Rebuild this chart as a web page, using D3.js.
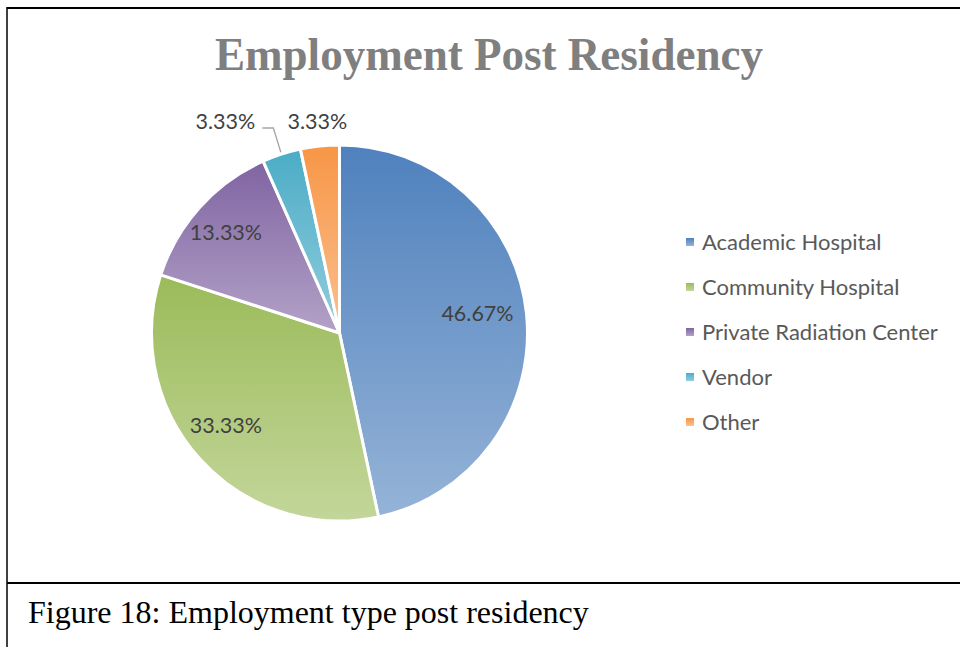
<!doctype html>
<html lang="en">
<head>
<meta charset="utf-8">
<title>Employment Post Residency</title>
<script src="https://d3js.org/d3.v7.min.js"></script>
<style>
  body { margin: 0; background: #fff; }
  svg { display: block; }
</style>
</head>
<body>
<div id="chart"></div>
<script>
// data
var categories = ["Academic Hospital", "Community Hospital", "Private Radiation Center", "Vendor", "Other"];
var shares = [46.67, 33.33, 13.33, 3.33, 3.33];
var topColors = ["#4f81bd", "#9bbb59", "#8064a2", "#4bacc6", "#f79646"];
var bottomColors = ["#95b3d7", "#c3d69b", "#b3a2c7", "#93cddd", "#fac090"];

var width = 960, height = 647;
var cx = 339.5, cy = 333, radius = 188;

var svg = d3.select("#chart").append("svg")
    .attr("width", width)
    .attr("height", height);

// frame lines
svg.append("line").attr("x1", 7).attr("x2", width).attr("y1", 8).attr("y2", 8)
    .attr("stroke", "#000").attr("stroke-width", 2);
svg.append("line").attr("x1", 7).attr("x2", width).attr("y1", 583).attr("y2", 583)
    .attr("stroke", "#000").attr("stroke-width", 2);
svg.append("line").attr("x1", 7).attr("x2", 7).attr("y1", 7).attr("y2", height)
    .attr("stroke", "#000").attr("stroke-width", 1.5);

// per-slice vertical gradients
var defs = svg.append("defs");
categories.forEach(function(c, i) {
  var g = defs.append("linearGradient")
      .attr("id", "grad" + i)
      .attr("x1", 0).attr("y1", 0).attr("x2", 0).attr("y2", 1);
  g.append("stop").attr("offset", "0%").attr("stop-color", topColors[i]);
  g.append("stop").attr("offset", "100%").attr("stop-color", bottomColors[i]);
});

// title
svg.append("text")
    .attr("x", 489).attr("y", 70)
    .attr("text-anchor", "middle")
    .attr("font-family", "'Liberation Serif', serif")
    .attr("font-weight", "bold")
    .attr("font-size", 46)
    .attr("textLength", 548)
    .attr("lengthAdjust", "spacingAndGlyphs")
    .attr("fill", "#7f7f7f")
    .text("Employment Post Residency");

var pie = d3.pie().sort(null).value(function(d) { return d; });
var arcs = pie(shares);
var arc = d3.arc().innerRadius(0).outerRadius(radius);
var labelArc = d3.arc().innerRadius(radius * 0.77).outerRadius(radius * 0.77);

var g = svg.append("g").attr("transform", "translate(" + cx + "," + cy + ")");

g.selectAll("path.slice")
  .data(arcs)
  .enter().append("path")
    .attr("class", "slice")
    .attr("d", arc)
    .attr("fill", function(d, i) { return "url(#grad" + i + ")"; })
    .attr("stroke", "#fff")
    .attr("stroke-width", 3)
    .attr("stroke-linejoin", "round");

var labelFont = "Lato, 'Open Sans', sans-serif";
var labelSize = 21.5;

// labels inside big slices (nudged a little left like the original)
g.selectAll("text.inner")
  .data(arcs.filter(function(d) { return d.value > 10; }))
  .enter().append("text")
    .attr("class", "inner")
    .attr("transform", function(d) {
      var c = labelArc.centroid(d);
      return "translate(" + (c[0] - 6) + "," + (c[1] - 4) + ")";
    })
    .attr("dy", "0.35em")
    .attr("text-anchor", "middle")
    .attr("font-family", labelFont)
    .attr("font-size", labelSize)
    .attr("fill", "#404040")
    .text(function(d) { return d.value.toFixed(2) + "%"; });

// small slices: labels above the pie
var outY = -radius - 24;
var other = arcs[4], vendor = arcs[3];
var otherMid = (other.startAngle + other.endAngle) / 2;
var otherX = Math.sin(otherMid) * (radius + 24);
var vendorX = otherX - 92;

g.append("text")
    .attr("x", otherX).attr("y", outY).attr("dy", "0.35em")
    .attr("text-anchor", "middle")
    .attr("font-family", labelFont).attr("font-size", labelSize).attr("fill", "#404040")
    .text(other.value.toFixed(2) + "%");

g.append("text")
    .attr("x", vendorX).attr("y", outY).attr("dy", "0.35em")
    .attr("text-anchor", "middle")
    .attr("font-family", labelFont).attr("font-size", labelSize).attr("fill", "#404040")
    .text(vendor.value.toFixed(2) + "%");

// leader line for vendor label
var vMid = (vendor.startAngle + vendor.endAngle) / 2;
var edge = [Math.sin(vMid) * (radius + 2), -Math.cos(vMid) * (radius + 2)];
g.append("polyline")
    .attr("points", [[vendorX + 37, outY + 7], [vendorX + 48, outY + 7], edge].join(" "))
    .attr("fill", "none")
    .attr("stroke", "#a6a6a6")
    .attr("stroke-width", 1.3);

// legend
var legend = svg.append("g").attr("transform", "translate(686,242)");
var rows = legend.selectAll("g")
  .data(categories)
  .enter().append("g")
    .attr("transform", function(d, i) { return "translate(0," + (i * 45) + ")"; });
rows.append("rect")
    .attr("x", 0).attr("y", -4).attr("width", 8).attr("height", 8)
    .attr("fill", function(d, i) { return "url(#grad" + i + ")"; });
rows.append("text")
    .attr("x", 16).attr("dy", "0.35em")
    .attr("font-family", labelFont).attr("font-size", 22).attr("fill", "#595959")
    .text(function(d) { return d; });

// caption
svg.append("text")
    .attr("x", 28).attr("y", 623)
    .attr("font-family", "'Liberation Serif', 'Times New Roman', serif")
    .attr("font-size", 32)
    .attr("fill", "#000")
    .text("Figure 18: Employment type post residency");
</script>
</body>
</html>
